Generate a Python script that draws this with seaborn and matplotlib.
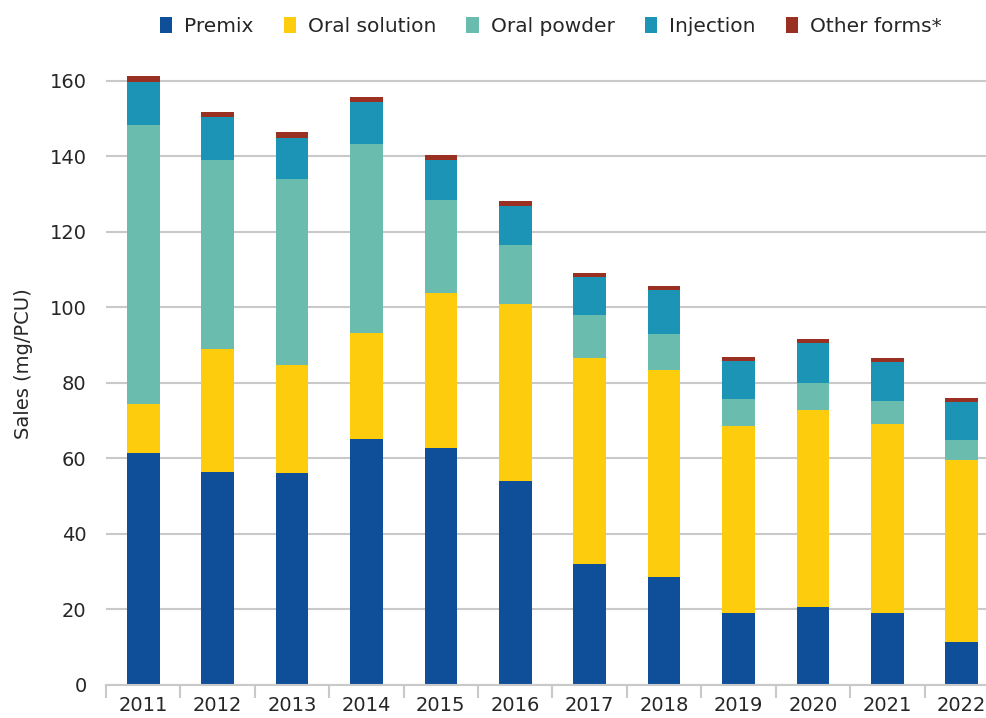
import matplotlib
matplotlib.use("Agg")
import matplotlib.pyplot as plt
import seaborn as sns
import pandas as pd
import numpy as np
from matplotlib.patches import Patch

years = ["2011", "2012", "2013", "2014", "2015", "2016", "2017", "2018", "2019", "2020", "2021", "2022"]
premix = [61.4, 56.3, 56.1, 65.1, 62.7, 54.0, 32.0, 28.5, 19.0, 20.6, 19.0, 11.3]
oral_solution = [13.0, 32.6, 28.5, 28.1, 41.1, 46.8, 54.5, 54.8, 49.5, 52.2, 50.1, 48.2]
oral_powder = [73.9, 50.1, 49.4, 50.0, 24.5, 15.7, 11.4, 9.6, 7.2, 7.1, 6.1, 5.3]
injection = [11.3, 11.4, 10.8, 11.2, 10.7, 10.3, 10.1, 11.7, 10.0, 10.6, 10.3, 10.1]
other_forms = [1.6, 1.3, 1.6, 1.3, 1.3, 1.3, 1.0, 1.0, 1.1, 1.1, 1.0, 1.0]

series_names = ["Premix", "Oral solution", "Oral powder", "Injection", "Other forms*"]
series_vals = [premix, oral_solution, oral_powder, injection, other_forms]
colors = ["#0F4F99", "#FDCC0C", "#6ABCAE", "#1C94B5", "#9A3022"]

sns.set_theme(style="white")
plt.rcParams['font.family'] = ['DejaVu Sans']

fig = plt.figure(figsize=(9.87, 7.18), dpi=100)
ax = fig.add_axes([106/987, 1 - 684.7/718, (999 - 106)/987, (684.7 - 42.9)/718])

cum = np.cumsum(np.array(series_vals), axis=0)
# draw from tallest cumulative to shortest so lower segments overlay
for i in range(len(series_names) - 1, -1, -1):
    df = pd.DataFrame({"year": years, "value": cum[i]})
    sns.barplot(data=df, x="year", y="value", order=years, color=colors[i],
                width=0.44, saturation=1, ax=ax, zorder=3, linewidth=0)

ax.set_ylim(0, 170)
ax.set_xlim(-0.5, len(years) - 0.5)
ax.set_yticks(range(0, 161, 20))
ax.yaxis.grid(True, color="#c9c9c9", linewidth=1.5, zorder=0)
ax.set_axisbelow(True)
for s in ["top", "right", "left"]:
    ax.spines[s].set_visible(False)
ax.spines["bottom"].set_color("#c9c9c9")
ax.spines["bottom"].set_linewidth(1.5)
ax.spines["bottom"].set_zorder(4)

ax.set_xticks(np.arange(-0.5, len(years), 1.0))
ax.set_xticklabels([])
ax.set_xticks(np.arange(len(years)), minor=True)
ax.set_xticklabels(years, minor=True)
ax.tick_params(axis="x", which="major", length=9, width=1.5, color="#c9c9c9", direction="out", bottom=True)
ax.tick_params(axis="x", which="minor", length=0, labelsize=14, labelcolor="#262626", pad=8)
ax.tick_params(axis="y", length=0, labelsize=14, labelcolor="#262626", pad=14)
ax.set_xlabel("")
ax.set_ylabel("Sales (mg/PCU)", fontsize=14, color="#262626", labelpad=12)

handles = [Patch(facecolor=c, edgecolor="none") for c in colors]
fig.legend(handles, series_names, loc="center", bbox_to_anchor=(0.558, 0.963), ncol=5,
           frameon=False, fontsize=14.5, handlelength=0.6, handleheight=0.8,
           handletextpad=0.6, columnspacing=1.5, labelcolor="#262626")

fig.savefig("out.png", dpi=100)
